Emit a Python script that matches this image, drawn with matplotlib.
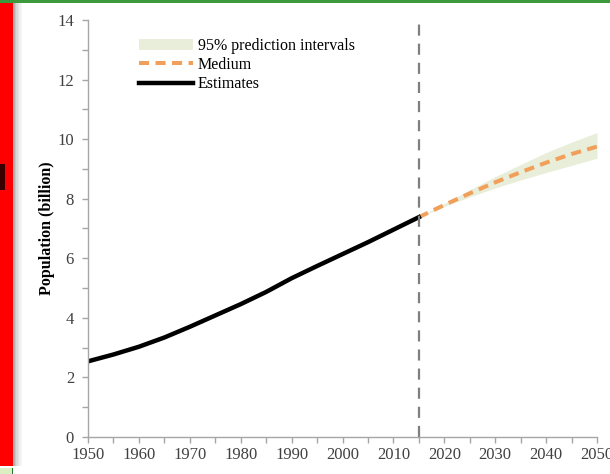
import matplotlib
matplotlib.use("Agg")
import matplotlib.pyplot as plt
from matplotlib.patches import Rectangle
from matplotlib.ticker import MultipleLocator

# World population, billions
est_years = [1950, 1955, 1960, 1965, 1970, 1975, 1980, 1985, 1990, 1995, 2000, 2005, 2010, 2015]
est_pop = [2.54, 2.77, 3.03, 3.34, 3.70, 4.08, 4.46, 4.87, 5.33, 5.74, 6.14, 6.54, 6.96, 7.38]

proj_years = [2015, 2020, 2025, 2030, 2035, 2040, 2045, 2050]
proj_medium = [7.38, 7.79, 8.18, 8.55, 8.89, 9.21, 9.50, 9.75]
proj_low = [7.38, 7.74, 8.06, 8.36, 8.63, 8.88, 9.12, 9.36]
proj_high = [7.38, 7.84, 8.30, 8.74, 9.15, 9.55, 9.90, 10.22]

plt.rcParams["font.family"] = ["Liberation Serif", "DejaVu Serif"]

fig = plt.figure(figsize=(6.10, 4.74), dpi=100)
ax = fig.add_axes([88 / 610, 1 - 437 / 474, 509 / 610, 417 / 474])

band = ax.fill_between(proj_years, proj_low, proj_high, color="#E8EED9", lw=0,
                       label="95% prediction intervals")
med, = ax.plot(proj_years, proj_medium, color="#F0A05A", lw=2.9, dashes=(2.5, 1.6),
               label="Medium", solid_capstyle="butt")
est, = ax.plot(est_years, est_pop, color="black", lw=3.2, label="Estimates")
ax.axvline(2015, color="#7F7F7F", lw=1.6, dashes=(5, 3.6))

ax.set_xlim(1950, 2050)
ax.set_ylim(0, 14)
ax.xaxis.set_major_locator(MultipleLocator(10))
ax.xaxis.set_minor_locator(MultipleLocator(5))
ax.yaxis.set_major_locator(MultipleLocator(2))
ax.yaxis.set_minor_locator(MultipleLocator(1))

for side in ("top", "right"):
    ax.spines[side].set_visible(False)
for side in ("left", "bottom"):
    ax.spines[side].set_color("#A6A6A6")
    ax.spines[side].set_linewidth(1.0)

ax.tick_params(which="both", direction="out", color="#A6A6A6", width=1.0, length=4,
               labelsize=12, labelcolor="#404040")
ax.tick_params(axis="y", pad=6)
ax.tick_params(axis="x", pad=3)

ax.set_ylabel("Population (billion)", fontsize=11.5, fontweight="bold")
ax.yaxis.set_label_coords(-0.065, 0.5)

ax.legend(handles=[band, med, est], loc="upper left", frameon=False,
          bbox_to_anchor=(126 / 610, 1 - 25 / 474), bbox_transform=fig.transFigure,
          fontsize=11.5, handlelength=3.4, handletextpad=0.3, labelspacing=0.2,
          borderpad=0.3)

# slide frame around the chart
fig.patches.append(Rectangle((0, 8 / 474), 13 / 610, 466 / 474, transform=fig.transFigure,
                             color="#FF0000", lw=0, zorder=5))
for i, a in enumerate([0.30, 0.22, 0.15, 0.10, 0.06, 0.03]):
    fig.patches.append(Rectangle(((13 + i * 1.5) / 610, 8 / 474), 1.5 / 610, 466 / 474,
                                 transform=fig.transFigure, color="black", alpha=a,
                                 lw=0, zorder=4))
fig.patches.append(Rectangle((0, 284 / 474), 5 / 610, 26 / 474, transform=fig.transFigure,
                             color="#3A0000", lw=0, zorder=6))
fig.patches.append(Rectangle((0, 0), 12 / 610, 6 / 474, transform=fig.transFigure,
                             color="#DCEFC4", lw=0, zorder=5))
fig.patches.append(Rectangle((12 / 610, 0), 1.2 / 610, 6 / 474, transform=fig.transFigure,
                             color="#1E7A2E", lw=0, zorder=5))
fig.patches.append(Rectangle((0, 1 - 3 / 474), 1, 3 / 474, transform=fig.transFigure,
                             color="#3C9A3C", lw=0, zorder=5))

fig.savefig("out.png", dpi=100)
